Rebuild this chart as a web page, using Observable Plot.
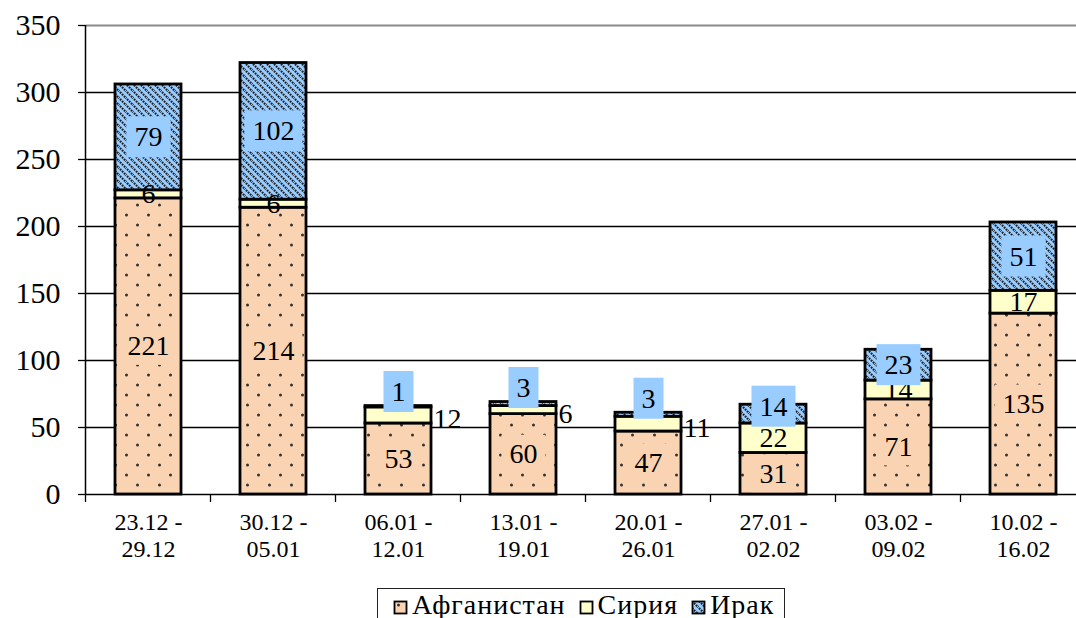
<!DOCTYPE html>
<html><head><meta charset="utf-8">
<script src="https://cdn.jsdelivr.net/npm/d3@7"></script>
<script src="https://cdn.jsdelivr.net/npm/@observablehq/plot@0.6"></script>
<style>
html,body{margin:0;padding:0;background:#fff;overflow:hidden;font-family:serif;}
#wrap{position:relative;width:1076px;height:618px;overflow:hidden;font-family:serif;}
#chart{position:absolute;left:0;top:0;width:1090px;}
#chart svg{max-width:none !important;}
#legend{position:absolute;left:377px;top:588px;width:408px;height:40px;border:1.5px solid #222;box-sizing:border-box;background:#fff;
  display:flex;align-items:flex-start;padding:1px 0 0 15px;font-family:serif;font-size:28px;line-height:30px;letter-spacing:1px;color:#000;white-space:nowrap;}
#legend .item{display:flex;align-items:flex-start;margin-right:13px;}
#legend svg{margin-right:4px;}
</style></head><body><div id="wrap"><div id="chart"></div><div id="legend"></div></div>
<script>
const weeks = ["23.12 -\n29.12","30.12 -\n05.01","06.01 -\n12.01","13.01 -\n19.01","20.01 -\n26.01","27.01 -\n02.02","03.02 -\n09.02","10.02 -\n16.02"];
const series = ["Афганистан","Сирия","Ирак"];
const afghanistan = [221,214,53,60,47,31,71,135];
const syria = [6,6,12,6,11,22,14,17];
const iraq = [79,102,1,3,3,14,23,51];
const yTicks = [0,50,100,150,200,250,300,350];

const values = [afghanistan, syria, iraq];
const rows = [];
weeks.forEach((w, i) => {
  let acc = 0;
  values.forEach((arr, s) => {
    const v = arr[i];
    rows.push({week: w, series: series[s], value: v, y1: acc, y2: acc + v, mid: acc + v / 2, iraqSmall: iraq[i] < 5});
    acc += v;
  });
});
const afgRows = rows.filter(d => d.series === series[0]);
const syrRows = rows.filter(d => d.series === series[1]);
const irqRows = rows.filter(d => d.series === series[2]);

const patIds = ["pAfg","pSyr","pIrq"];
const font = "serif";
const T = {fontSize: 28, fontFamily: font, fill: "#000"};

const plot = Plot.plot({
  width: 1090, height: 588,
  marginLeft: 86, marginRight: 4, marginTop: 25, marginBottom: 94,
  style: {fontFamily: font, background: "white", color: "#000", overflow: "visible", maxWidth: "none"},
  x: {domain: weeks, paddingInner: 0.472, paddingOuter: 0.236, label: null},
  y: {domain: [0, 350], label: null},
  color: {domain: series, range: patIds.map(id => `url(#${id})`)},
  marks: [
    Plot.ruleY(yTicks.filter(d => d > 0 && d < 350), {stroke: "#000", strokeWidth: 1.3}),
    Plot.ruleY([350], {stroke: "#8a8a8a", strokeWidth: 2}),
    Plot.ruleY([0], {stroke: "#000", strokeWidth: 1.5}),
    Plot.barY(rows, {x: "week", y1: "y1", y2: "y2", fill: "series", stroke: "#000", strokeWidth: 2.8}),
    Plot.axisY({ticks: yTicks, tickSize: 8, tickPadding: 18, fontSize: 30, fontFamily: font, tickFormat: d => d, strokeWidth: 1.3}),
    Plot.axisX({tickSize: 0, tickPadding: 16, fontSize: 24, fontFamily: font, lineHeight: 1.13}),
    Plot.text(afgRows, {x: "week", y: "mid", text: "value", ...T, ariaLabel: () => "afg-labels"}),
    Plot.text(syrRows.filter(d => !d.iraqSmall), {x: "week", y: "mid", text: "value", ...T}),
    Plot.text(syrRows.filter(d => d.iraqSmall), {x: "week", y: "mid", text: "value", ...T, textAnchor: "start", dx: 35, dy: 4}),
    Plot.text(irqRows.filter(d => d.value >= 20), {x: "week", y: "mid", text: "value", ...T, ariaLabel: () => "irq-labels"}),
    Plot.text(irqRows.filter(d => d.value >= 5 && d.value < 20), {x: "week", y: "y2", text: "value", ...T, dy: 2, ariaLabel: () => "irq-labels"}),
    Plot.text(irqRows.filter(d => d.value < 5), {x: "week", y: "y2", text: "value", ...T, dy: -14, ariaLabel: () => "irq-labels"})
  ]
});
document.getElementById("chart").appendChild(plot);

const svg = d3.select(plot);
svg.style("max-width", "none");
const defs = svg.insert("defs", ":first-child");
const pa = defs.append("pattern").attr("id", "pAfg").attr("width", 22).attr("height", 20).attr("patternUnits", "userSpaceOnUse");
pa.append("rect").attr("width", 22).attr("height", 20).attr("fill", "#FAD4B2");
pa.append("circle").attr("cx", 5.5).attr("cy", 5).attr("r", 1.5).attr("fill", "#333");
pa.append("circle").attr("cx", 16.5).attr("cy", 15).attr("r", 1.5).attr("fill", "#333");
const ps = defs.append("pattern").attr("id", "pSyr").attr("width", 8).attr("height", 8).attr("patternUnits", "userSpaceOnUse");
ps.append("rect").attr("width", 8).attr("height", 8).attr("fill", "#FFFFCC");
const pi = defs.append("pattern").attr("id", "pIrq").attr("width", 7).attr("height", 7).attr("patternUnits", "userSpaceOnUse");
pi.append("rect").attr("width", 7).attr("height", 7).attr("fill", "#99CCFF");
pi.append("path").attr("d", "M-1,-1L8,8M-1,6L1,8M6,-1L8,1").attr("stroke", "#222").attr("stroke-width", 2.1).attr("stroke-dasharray", "1.8 1");

// label boxes behind data labels (rect shares the text's transform)
function boxes(label, color, h) {
  svg.selectAll(`text[aria-label="${label}"]`).each(function () {
    const b = this.getBBox();
    const cy = b.y + b.height / 2;
    d3.select(this.parentNode).insert("rect", () => this)
      .attr("transform", this.getAttribute("transform"))
      .attr("x", b.x - 8).attr("width", b.width + 16)
      .attr("y", cy - h / 2).attr("height", h)
      .attr("fill", color);
  });
}
boxes("afg-labels", "#FAD4B2", 38);
boxes("irq-labels", "#99CCFF", 41);

// boundary ticks on the x axis and the y axis line
const sx = plot.scale("x"), sy = plot.scale("y");
const half = (sx.step - sx.bandwidth) / 2;
const y0 = sy.apply(0), yTop = sy.apply(350);
const xs = weeks.map(w => sx.apply(w) - half);
xs.push(sx.apply(weeks[weeks.length - 1]) + sx.bandwidth + half);
const g = svg.append("g");
g.selectAll("line.t").data(xs).join("line").attr("x1", d => d).attr("x2", d => d).attr("y1", y0).attr("y2", y0 + 8).attr("stroke", "#000").attr("stroke-width", 1.3);
g.append("line").attr("x1", xs[0]).attr("x2", xs[0]).attr("y1", yTop).attr("y2", y0).attr("stroke", "#000").attr("stroke-width", 1.5);

// legend
const leg = d3.select("#legend");
series.forEach((s, i) => {
  const it = leg.append("div").attr("class", "item");
  const sv = it.append("svg").attr("width", 15).attr("height", 15).style("margin-top", "10px");
  sv.append("rect").attr("x", 1.5).attr("y", 1.5).attr("width", 12).attr("height", 12).attr("fill", `url(#${patIds[i]})`).attr("stroke", "#000").attr("stroke-width", 1.8);
  it.append("span").text(s);
});
</script></body></html>
